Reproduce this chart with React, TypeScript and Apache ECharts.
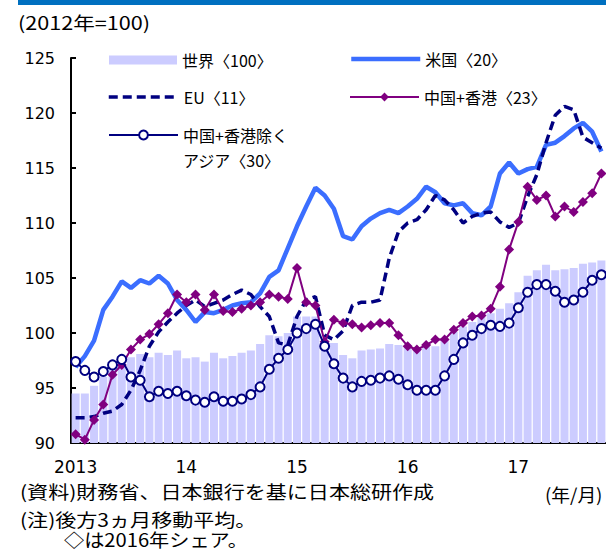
import React, { useEffect, useRef } from "react";
import * as echarts from "echarts";

const yearLabels = ["2013", "14", "15", "16", "17"];
const monthsPerYear = 12;
const monthCount = 58; // 2013/1 .. 2017/10

const categories: string[] = [];
for (let i = 0; i < monthCount; i++) {
  const y = Math.floor(i / monthsPerYear);
  categories.push(`${yearLabels[y]}/${(i % monthsPerYear) + 1}`);
}

const seriesNames = [
  "世界〈100〉",
  "米国〈20〉",
  "EU〈11〉",
  "中国+香港〈23〉",
  "中国+香港除く\nアジア〈30〉",
];

const world = [
  94.5, 94.5, 95.2, 96.0, 96.8, 97.6, 97.8, 98.1, 97.8, 98.2, 98.0, 98.4,
  97.7, 97.8, 97.4, 98.2, 97.7, 97.9, 98.2, 98.4, 99.0, 99.8, 99.7, 100.0,
  101.5, 101.5, 101.5, 99.2, 99.1, 98.0, 97.7, 98.4, 98.5, 98.6, 99.0, 98.9,
  98.8, 98.7, 98.8, 98.8, 99.4, 100.1, 100.6, 101.0, 101.5, 101.8, 102.2, 102.7,
  103.7, 105.2, 105.7, 106.2, 105.7, 105.8, 105.9, 106.3, 106.4, 106.6,
];

const us = [
  96.9, 97.9, 99.3, 102.1, 103.3, 104.7, 104.1, 104.8, 104.5, 105.2, 104.5, 103.0,
  102.1, 101.0, 101.9, 101.8, 102.1, 102.5, 102.7, 102.8, 103.6, 105.1, 105.7, 107.7,
  109.7, 111.5, 113.2, 112.5, 111.3, 108.8, 108.5, 109.7, 110.4, 110.9, 111.2, 110.9,
  111.5, 112.2, 113.3, 112.8, 111.8, 111.6, 111.8, 110.9, 110.7, 111.5, 114.5, 115.5,
  114.5, 114.9, 115.1, 117.1, 117.3, 117.9, 118.6, 119.1, 118.3, 116.5,
];

const eu = [
  92.3, 92.3, 92.4, 92.7, 92.9, 93.5, 94.8, 96.6, 98.8, 100.1, 101.0, 101.8,
  102.5, 103.0, 102.4, 102.7, 103.0, 103.5, 103.9, 103.5, 102.4, 101.5, 99.1, 98.9,
  101.5, 103.0, 103.3, 99.8, 99.4, 100.2, 102.5, 102.8, 102.8, 103.0, 106.8, 109.2,
  110.0, 110.3, 111.2, 112.5, 112.1, 111.2, 110.0, 110.6, 110.9, 111.0, 110.1, 109.6,
  110.0, 112.4, 114.4, 117.3, 119.8, 120.6, 120.3, 117.8, 117.3, 116.8,
];

const chinaHK = [
  90.8, 90.3, 92.1, 93.5, 96.2, 97.1, 98.5, 99.4, 99.9, 100.8, 101.8, 103.5,
  102.8, 103.5, 102.1, 103.5, 102.0, 101.9, 102.2, 102.5, 102.8, 103.5, 103.3, 103.1,
  105.9, 102.8, 102.5, 99.2, 101.2, 100.9, 100.8, 100.5, 100.7, 100.9, 100.9, 99.8,
  98.8, 98.5, 98.9, 99.4, 99.4, 100.3, 100.9, 101.5, 101.6, 102.2, 104.2, 107.6,
  110.1, 113.3, 112.1, 112.5, 110.6, 111.5, 111.0, 111.9, 112.7, 114.5,
];

const asiaExChina = [
  97.4, 96.6, 96.0, 96.5, 97.1, 97.6, 96.0, 95.7, 94.2, 94.7, 94.5, 94.7,
  94.3, 93.9, 93.7, 94.2, 93.8, 93.8, 94.0, 94.4, 95.1, 96.7, 97.7, 98.5,
  100.0, 100.4, 100.8, 98.8, 97.2, 95.9, 95.1, 95.6, 95.7, 95.9, 96.1, 95.8,
  95.3, 94.8, 94.8, 94.8, 96.1, 97.6, 99.1, 99.8, 100.4, 100.7, 100.6, 100.9,
  102.3, 103.7, 104.4, 104.4, 103.8, 102.8, 103.0, 103.7, 104.8, 105.3,
];

const yMin = 90;
const yMax = 125;
const yStep = 5;

const titleText = "(2012年=100)";
const unitText = "(年/月)";
const footnotes = [
  "(資料)財務省、日本銀行を基に日本総研作成",
  "(注)後方3ヵ月移動平均。",
  "◇は2016年シェア。",
];

const NAVY = "#000080";
const PURPLE = "#800080";
const BLUE = "#3B6EFF";
const LAVENDER = "#CCCCFF";
const JP = "'Noto Sans CJK JP', sans-serif";
const NUM = "'DejaVu Sans', sans-serif";

export default function App() {
  const ref = useRef<HTMLDivElement>(null);

  useEffect(() => {
    if (!ref.current) return;
    const chart = echarts.init(ref.current, undefined, { renderer: "svg" });
    const bandW = 9.3333;
    const legendText = { fontFamily: JP, fontSize: 16, color: "#000" };
    const noteStyle = (text: string) => ({
      text,
      font: `18px ${JP}`,
      fill: "#000",
      verticalAlign: "middle" as const,
    });
    const usLine = { color: BLUE, width: 4.5 };
    const euLine = { color: NAVY, width: 3.5, type: [9, 5] as number[] };
    const option: echarts.EChartsOption = {
      animation: false,
      backgroundColor: "#fff",
      grid: { left: 71, top: 58, width: bandW * monthCount, height: 385 },
      xAxis: {
        type: "category",
        data: categories,
        boundaryGap: true,
        axisLine: { lineStyle: { color: "#000", width: 2 } },
        axisTick: {
          interval: (i: number) => i % monthsPerYear === 0,
          length: 5,
          lineStyle: { color: "#000", width: 2 },
        },
        axisLabel: {
          interval: (i: number) => i % monthsPerYear === 0,
          formatter: (v: string) => v.split("/")[0],
          fontFamily: NUM,
          fontSize: 17,
          color: "#000",
          margin: 15,
        },
        splitLine: { show: false },
      },
      yAxis: {
        type: "value",
        min: yMin,
        max: yMax,
        interval: yStep,
        axisLine: { show: true, lineStyle: { color: "#000", width: 2 } },
        axisTick: { show: true, inside: true, length: 5, lineStyle: { color: "#000", width: 2 } },
        axisLabel: { fontFamily: NUM, fontSize: 16, color: "#000", margin: 16 },
        splitLine: { show: false },
      },
      legend: [
        {
          data: [{ name: seriesNames[0], icon: "rect" }],
          left: 109, top: 52, padding: 0,
          itemWidth: 68, itemHeight: 9, textStyle: legendText,
        },
        {
          data: [{ name: seriesNames[1], itemStyle: { opacity: 0 }, lineStyle: usLine }],
          left: 349, top: 51, padding: 0,
          itemWidth: 69, itemHeight: 11, textStyle: legendText,
        },
        {
          data: [{ name: seriesNames[2], itemStyle: { opacity: 0 }, lineStyle: euLine }],
          left: 107, top: 89, padding: 0,
          itemWidth: 70, itemHeight: 11, textStyle: legendText,
        },
        {
          data: [seriesNames[3]],
          left: 349, top: 89, padding: 0,
          itemWidth: 69, itemHeight: 11, textStyle: legendText,
        },
        {
          data: [seriesNames[4]],
          left: 108, top: 97.5, padding: 0,
          itemWidth: 69, itemHeight: 11,
          formatter: (name: string) => "\n" + name,
          textStyle: { ...legendText, lineHeight: 25 },
        },
      ],
      graphic: [
        { type: "rect", shape: { x: 18, y: 0, width: 600, height: 5 }, style: { fill: "#0070C0" } },
        { type: "text", x: 18, y: 22, scaleX: 1.2, style: noteStyle(titleText) },
        { type: "text", x: 545, y: 494, scaleX: 1.04, style: noteStyle(unitText) },
        { type: "text", x: 20, y: 491, scaleX: 1.17, style: noteStyle(footnotes[0]) },
        { type: "text", x: 20, y: 519, scaleX: 1.17, style: noteStyle(footnotes[1]) },
        { type: "text", x: 64, y: 539, scaleX: 1.12, style: noteStyle(footnotes[2]) },
      ],
      series: [
        {
          name: seriesNames[0], type: "bar", data: world, barWidth: 8,
          itemStyle: { color: LAVENDER }, z: 1,
        },
        {
          name: seriesNames[1], type: "line", data: us, symbol: "none",
          lineStyle: usLine, itemStyle: { color: BLUE }, z: 2,
        },
        {
          name: seriesNames[2], type: "line", data: eu, symbol: "none",
          lineStyle: euLine, itemStyle: { color: NAVY }, z: 3,
        },
        {
          name: seriesNames[3], type: "line", data: chinaHK, symbol: "diamond", symbolSize: 10,
          showAllSymbol: true,
          lineStyle: { color: PURPLE, width: 2 }, itemStyle: { color: PURPLE }, z: 4,
        },
        {
          name: seriesNames[4], type: "line", data: asiaExChina, symbol: "emptyCircle", symbolSize: 9,
          showAllSymbol: true,
          lineStyle: { color: NAVY, width: 2 }, itemStyle: { color: NAVY, borderWidth: 2 }, z: 5,
        },
      ],
    };
    chart.setOption(option);
    return () => chart.dispose();
  }, []);

  return (
    <div
      ref={ref}
      style={{ position: "absolute", left: 0, top: 0, width: 606, height: 552, overflow: "hidden" }}
    />
  );
}
